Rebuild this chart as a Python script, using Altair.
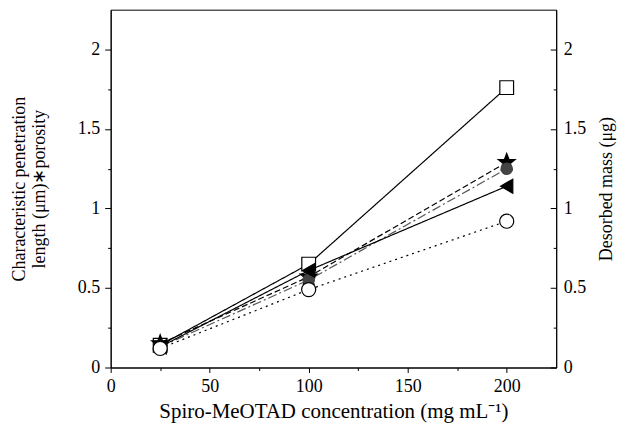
import altair as alt
import pandas as pd
import math

conc = [25, 100, 200]
series = ["square", "star", "gcircle", "triangle", "ocircle"]
y_square = [0.14, 0.65, 1.76]
y_star = [0.15, 0.57, 1.29]
y_gcircle = [0.13, 0.55, 1.25]
y_triangle = [0.13, 0.61, 1.14]
y_ocircle = [0.12, 0.49, 0.92]
x_tick_values = [0, 25, 50, 75, 100, 125, 150, 175, 200]
y_tick_values = [0, 0.25, 0.5, 0.75, 1, 1.25, 1.5, 1.75, 2]

vals = [y_square, y_star, y_gcircle, y_triangle, y_ocircle]

# star path in [-1,1]
pts = []
for i in range(10):
    r = 1.0 if i % 2 == 0 else 0.42
    a = -math.pi / 2 + i * math.pi / 5
    pts.append(f"{r*math.cos(a):.3f},{r*math.sin(a):.3f}")
star_path = "M" + "L".join(pts) + "Z"

styles = {
    "square": dict(shape="square", fill="white", stroke="black", dash=[1, 0], lc="black", size=190),
    "star": dict(shape=star_path, fill="black", stroke="black", dash=[6, 3], lc="black", size=320),
    "gcircle": dict(shape="circle", fill="#444444", stroke="#444444", dash=[9, 3, 2, 3], lc="#555555", size=130),
    "triangle": dict(shape="triangle-left", fill="black", stroke="black", dash=[1, 0], lc="black", size=200),
    "ocircle": dict(shape="circle", fill="white", stroke="black", dash=[2, 4], lc="black", size=200),
}

FONT = "Liberation Serif"
xs = alt.Scale(domain=[0, 225], nice=False)
ys = alt.Scale(domain=[0, 2.25], nice=False)

common = dict(labelFont=FONT, titleFont=FONT, labelFontSize=18,
              titleFontWeight="normal", domainColor="black", tickColor="black",
              labelColor="black", titleColor="black", grid=False)

x_axis = alt.Axis(values=x_tick_values, title="Spiro-MeOTAD concentration (mg mL⁻¹)",
                  labelExpr="datum.value % 50 == 0 ? datum.label : ''",
                  tickSize={"condition": {"test": "datum.value % 50 != 0", "value": 3}, "value": 5},
                  labelPadding=5, titlePadding=5, titleFontSize=21, labelFlush=False, **common)
y_axis = alt.Axis(values=y_tick_values, orient="left",
                  title=["Characteristic penetration", "length (μm)∗porosity"],
                  labelExpr="datum.value % 0.5 == 0 ? format(datum.value, '~g') : ''",
                  tickSize={"condition": {"test": "datum.value % 0.5 != 0", "value": 3}, "value": 6},
                  labelPadding=5, titlePadding=29, titleFontSize=18, titleLineHeight=20,
                  labelFlush=False, **common)

layers = []
first = True
for name, v in zip(series, vals):
    df = pd.DataFrame({"x": conc, "y": v})
    st = styles[name]
    if first:
        enc = dict(x=alt.X("x:Q", scale=xs, axis=x_axis), y=alt.Y("y:Q", scale=ys, axis=y_axis))
        first = False
    else:
        enc = dict(x=alt.X("x:Q", scale=xs), y=alt.Y("y:Q", scale=ys))
    line = alt.Chart(df).mark_line(color=st["lc"], strokeWidth=1.2, strokeDash=st["dash"]).encode(**enc)
    layers.append(line)
for name, v in zip(series, vals):
    df = pd.DataFrame({"x": conc, "y": v})
    st = styles[name]
    pt = alt.Chart(df).mark_point(shape=st["shape"], filled=True, fill=st["fill"], stroke=st["stroke"],
                                  strokeWidth=1.2, size=st["size"], opacity=1).encode(
        x=alt.X("x:Q", scale=xs),
        y=alt.Y("y:Q", scale=ys),
    )
    layers.append(pt)

axdf = pd.DataFrame({"x": [0], "y": [0]})
right_axis = alt.Chart(axdf).mark_point(opacity=0).encode(
    y=alt.Y("y:Q", scale=ys, axis=alt.Axis(values=y_tick_values,
                                            labelExpr="datum.value % 0.5 == 0 ? format(datum.value, '~g') : ''",
                                            orient="right", title="Desorbed mass (μg)", titleAngle=-90,
                                            tickSize={"condition": {"test": "datum.value % 0.5 != 0", "value": -3}, "value": -6},
                                            labelPadding=13, titlePadding=30, titleFontSize=18,
                                            labelFlush=False, **common)),
)

base = alt.layer(*layers)
chart = alt.layer(base, right_axis).resolve_scale(y="independent").properties(
    width=447, height=359,
    autosize=alt.AutoSizeParams(type="none"),
    padding={"left": 103, "top": 1, "right": 62, "bottom": 60},
).configure_view(stroke="black", strokeWidth=1).configure_axis(tickWidth=1, domainWidth=1)

chart.save("out.html", embed_options={"renderer": "svg", "actions": False})
